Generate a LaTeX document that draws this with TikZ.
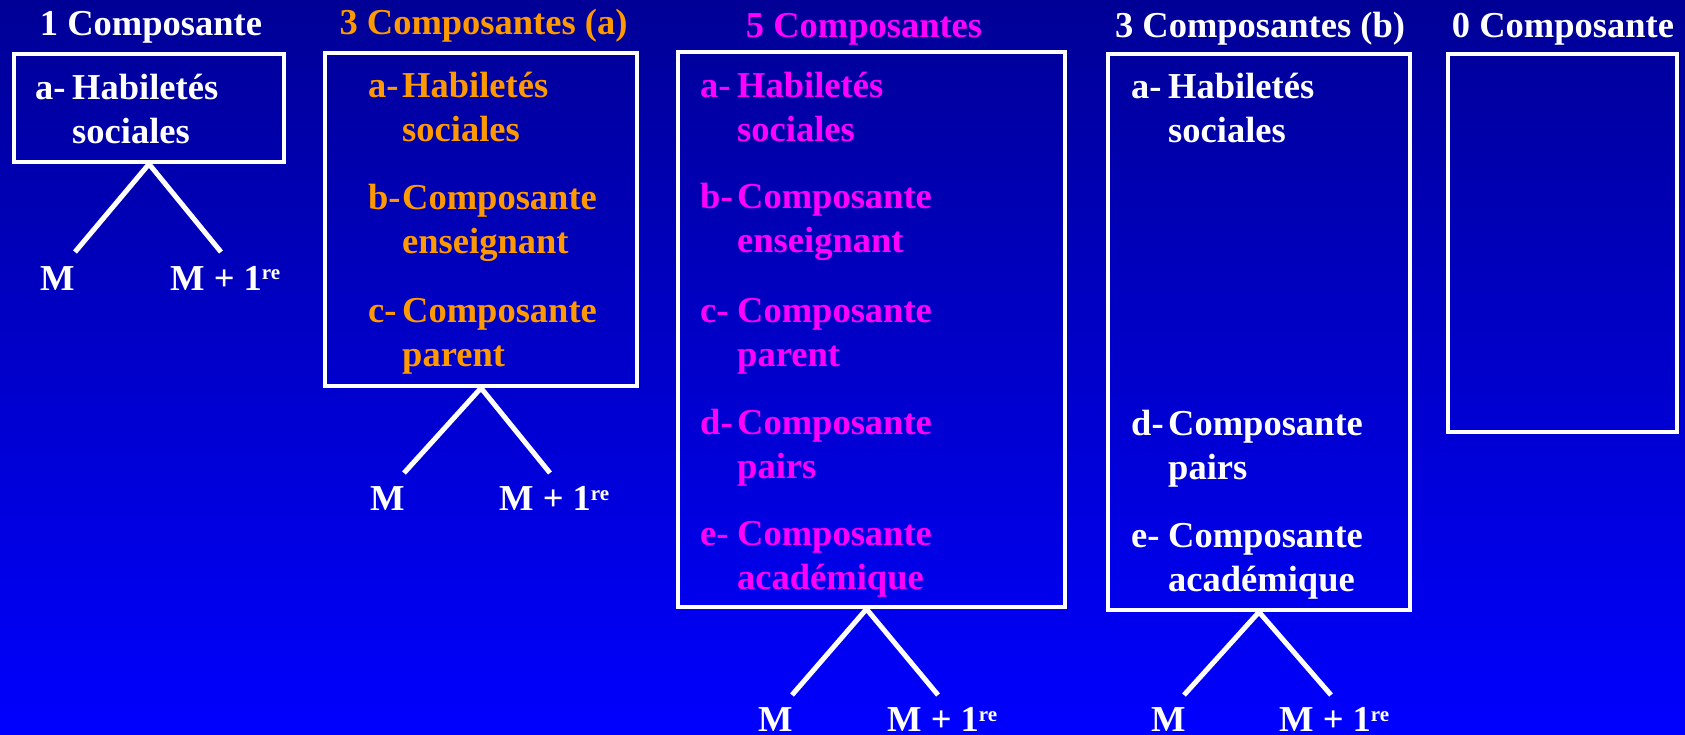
\documentclass[tikz,border=0pt]{standalone}
\usepackage{fontspec}
\setmainfont{Liberation Serif}
\definecolor{bgtop}{HTML}{000096}
\definecolor{bgbot}{HTML}{0000FF}
\definecolor{orng}{HTML}{FF9900}
\definecolor{mgnt}{HTML}{FF00FF}
\newcommand{\bigfont}{\bfseries\fontsize{36.5}{44}\selectfont}
\newcommand{\supre}{{\fontsize{21}{21}\selectfont\raisebox{10pt}{re}}}
\newcommand{\compitem}[7]{%
  \node[txt] (#1l) at (#2,#4) {#5};
  \node[txt] (#1a) at (#3,#4) {#6};
  \node[txt] (#1b) at (#3,#4+44) {#7};}
\begin{document}
\begin{tikzpicture}[x=1pt,y=-1pt,
  txt/.style={anchor=base west, inner sep=0pt, font=\bigfont},
  ttl/.style={anchor=base, inner sep=0pt, font=\bigfont},
  mlab/.style={anchor=base west, inner sep=0pt, font=\bigfont, text=white},
  box/.style={draw=white, line width=4pt, inner sep=0pt},
  leg/.style={draw=white, line width=5pt}]
\fill[top color=bgtop, bottom color=bgbot] (0,0) rectangle (1685,735);
\useasboundingbox (0,0) rectangle (1685,735);

% boxes
\node[box, minimum width=270pt, minimum height=108pt] (b1) at (149,108) {};
\node[box, minimum width=312pt, minimum height=333pt] (b2) at (481,219.5) {};
\node[box, minimum width=387pt, minimum height=555pt] (b3) at (871.5,329.5) {};
\node[box, minimum width=302pt, minimum height=556pt] (b4) at (1259,332) {};
\node[box, minimum width=229pt, minimum height=378pt] (b5) at (1562.5,243) {};

% titles
\node[ttl, text=white] (t1) at (151,36) {1 Composante};
\node[ttl, text=orng] (t2) at (483.5,35) {3 Composantes (a)};
\node[ttl, text=mgnt] (t3) at (864,37.5) {5 Composantes};
\node[ttl, text=white] (t4) at (1260,37.5) {3 Composantes (b)};
\node[ttl, text=white] (t5) at (1563,37.5) {0 Composante};

% box 1
\begin{scope}[every node/.append style={text=white}]
\compitem{p1a}{35}{72}{100}{a-}{Habiletés}{sociales}
\end{scope}
% box 2
\begin{scope}[every node/.append style={text=orng}]
\compitem{p2a}{368}{402}{98}{a-}{Habiletés}{sociales}
\compitem{p2b}{368}{402}{210}{b-}{Composante}{enseignant}
\compitem{p2c}{368}{402}{322}{c-}{Composante}{parent}
\end{scope}
% box 3
\begin{scope}[every node/.append style={text=mgnt}]
\compitem{p3a}{700}{737}{98}{a-}{Habiletés}{sociales}
\compitem{p3b}{700}{737}{209}{b-}{Composante}{enseignant}
\compitem{p3c}{700}{737}{322}{c-}{Composante}{parent}
\compitem{p3d}{700}{737}{434}{d-}{Composante}{pairs}
\compitem{p3e}{700}{737}{545}{e-}{Composante}{académique}
\end{scope}
% box 4
\begin{scope}[every node/.append style={text=white}]
\compitem{p4a}{1131}{1168}{99}{a-}{Habiletés}{sociales}
\compitem{p4d}{1131}{1168}{435}{d-}{Composante}{pairs}
\compitem{p4e}{1131}{1168}{547}{e-}{Composante}{académique}
\end{scope}

% legs
\coordinate (l1) at (75,252);   \coordinate (r1) at (221,252);
\coordinate (l2) at (404,473);  \coordinate (r2) at (550,473);
\coordinate (l3) at (792,695);  \coordinate (r3) at (938,695);
\coordinate (l4) at (1184,695); \coordinate (r4) at (1331,695);
\draw[leg] (l1) -- (b1.south) -- (r1);
\draw[leg] (l2) -- (b2.south) -- (r2);
\draw[leg] (l3) -- ([xshift=-5pt]b3.south) -- (r3);
\draw[leg] (l4) -- (b4.south) -- (r4);

% M labels
\node[mlab] (m1) at (40,290) {M};
\node[mlab] (n1) at (170,290) {M + 1\supre};
\node[mlab] (m2) at (370,510) {M};
\node[mlab] (n2) at (499,510) {M + 1\supre};
\node[mlab] (m3) at (758,731) {M};
\node[mlab] (n3) at (887,731) {M + 1\supre};
\node[mlab] (m4) at (1151,731) {M};
\node[mlab] (n4) at (1279,731) {M + 1\supre};
\end{tikzpicture}
\end{document}
